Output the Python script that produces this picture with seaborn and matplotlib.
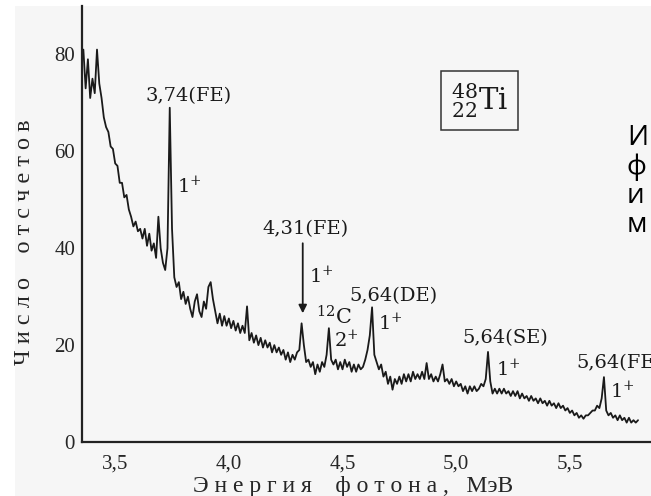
import numpy as np
import pandas as pd
import seaborn as sns
import matplotlib.pyplot as plt
from matplotlib.patches import Rectangle

# spectrum: counts per channel, channels 0.01 MeV apart starting at 3.36 MeV
e_start = 3.36
e_step = 0.01
counts = [
    81, 73, 79, 71, 75, 72, 81, 74, 71, 67,
    65, 64, 61, 60.5, 57.5, 57, 53.5, 53.5, 50.5, 51,
    48, 46.5, 44.5, 45.5, 43.5, 44, 42, 44, 40.5, 43,
    39.5, 41, 38, 46.5, 40, 37, 35.5, 40, 69, 44,
    34, 32, 33, 29.5, 31, 28.5, 30, 27.5, 25.8, 29,
    30.5, 27, 25.8, 29, 27.5, 32, 33, 29.5, 27, 24.5,
    26.5, 24, 26, 24, 25.5, 23.5, 25, 23, 24.5, 22.5,
    24, 22.5, 28, 21, 22.5, 20.5, 22, 20, 21.5, 19.5,
    21, 19.5, 20.5, 18.5, 20, 18.5, 19.5, 18, 19, 17,
    18.5, 16.5, 18, 17, 18.5, 19, 24.5, 20, 16.5, 17,
    15.5, 16.5, 14, 16, 14.5, 16.5, 15.5, 18, 23.5, 17,
    16, 17, 15, 16.5, 15, 17, 15.5, 16.5, 14.5, 16,
    14.5, 16, 15, 15.5, 17, 19, 22, 27.8, 18, 16.5,
    15, 16, 13.5, 14.5, 12, 13.5, 10.8, 13, 12, 13.5,
    12, 14, 12.5, 14, 12.5, 14.5, 13, 14, 13, 14.5,
    13, 16.3, 13, 14, 12.5, 13.5, 12.5, 14, 16, 12.5,
    13, 12, 13, 11.5, 12.5, 11.5, 12, 10.5, 11.5, 10,
    11.5, 10.5, 11.5, 10.5, 11, 12, 11.5, 13, 18.6, 12.5,
    10, 11, 10, 11, 10, 11, 10, 10.5, 9.5, 10.5,
    9.5, 10.5, 9, 10, 9, 9.5, 8.5, 9.5, 8.5, 9,
    8, 9, 8, 8.5, 7.5, 8.5, 7.5, 8, 7, 8,
    7, 7.5, 6.5, 7, 6, 6.5, 5.5, 6, 5, 5.5,
    4.8, 5.5, 5.5, 6, 6.5, 6.5, 7.5, 7, 9, 13.4,
    6.5, 5.5, 6, 5, 5.5, 4.5, 5.5, 4.5, 5, 4,
    5, 4, 4.5, 4, 4.5,
]
energy = np.round(e_start + e_step * np.arange(len(counts)), 2)

xticks = [3.5, 4.0, 4.5, 5.0, 5.5]
xtick_labels = ["3,5", "4,0", "4,5", "5,0", "5,5"]
yticks = [0, 20, 40, 60, 80]

# peak labels: (text, x, y, alignment)
peak_labels = [
    ("3,74(FE)", 3.822, 71.5, "center"),
    ("4,31(FE)", 4.338, 43.9, "center"),
    ("5,64(DE)", 4.722, 30.1, "center"),
    ("5,64(SE)", 5.216, 21.4, "center"),
    ("5,64(FE)", 5.529, 16.3, "left"),
]
spin_labels = [
    ("1$^{+}$", 3.773, 52.8),
    ("1$^{+}$", 4.351, 34.2),
    ("2$^{+}$", 4.462, 21.0),
    ("1$^{+}$", 4.656, 24.5),
    ("1$^{+}$", 5.176, 15.0),
    ("1$^{+}$", 5.675, 10.5),
]
side_letters = ["И", "ф", "и", "м"]

df = pd.DataFrame({"E": energy, "N": counts})

sns.set_style("white")
plt.rcParams["font.family"] = ["Liberation Serif", "DejaVu Serif"]
plt.rcParams["mathtext.fontset"] = "dejavuserif"

fig = plt.figure(figsize=(6.51, 4.96), dpi=100, facecolor="white")
fig.patches.append(Rectangle((15 / 651, 0), 1, 490 / 496, transform=fig.transFigure,
                             facecolor="#f6f6f6", edgecolor="none", zorder=-1))
ax = fig.add_axes([82 / 651, 54 / 496, 569 / 651, 436 / 496])
ax.set_facecolor("none")

sns.lineplot(data=df, x="E", y="N", ax=ax, color="#1a1a1a", lw=1.3, estimator=None)

ax.set_xlim(3.354, 5.857)
ax.set_ylim(0, 90)
ax.set_xticks(xticks)
ax.set_xticklabels(xtick_labels)
ax.set_yticks(yticks)
ax.tick_params(axis="x", direction="in", length=9, width=1.5, pad=9, labelsize=15, color="#222")
ax.tick_params(axis="y", direction="in", length=6, width=1.5, pad=5, labelsize=15, color="#222")
for side in ["top", "right"]:
    ax.spines[side].set_visible(False)
for side in ["left", "bottom"]:
    ax.spines[side].set_linewidth(1.6)
    ax.spines[side].set_color("#222")

ax.set_xlabel("Э н е р г и я    ф о т о н а ,   МэВ", fontsize=17)
ax.set_ylabel("Ч и с л о    о т с ч е т о в", fontsize=17.5)
ax.xaxis.set_label_coords(0.476, -0.078)
ax.yaxis.set_label_coords(-0.083, 0.458)

ann_font = dict(family="DejaVu Serif", fontsize=14, color="#1a1a1a")
for txt, x, y, ha in peak_labels:
    ax.text(x, y, txt, ha=ha, va="center", clip_on=False, **ann_font)
for txt, x, y in spin_labels:
    ax.text(x, y, txt, ha="left", va="center", **ann_font)
ax.text(4.382, 25.8, "$^{12}$C", ha="left", va="center", family="DejaVu Serif",
        fontsize=15, color="#1a1a1a")

ax.annotate("", xy=(4.325, 26.0), xytext=(4.325, 41.6),
            arrowprops=dict(arrowstyle="-|>", color="#1a1a1a", lw=1.3, mutation_scale=12))

ax.text(5.103, 70.5, r"${}^{48}_{22}\mathrm{Ti}$", ha="center", va="center", fontsize=21,
        color="#1a1a1a",
        bbox=dict(boxstyle="square,pad=0.35", facecolor="none", edgecolor="#333", lw=1.1))

for i, ch in enumerate(side_letters):
    fig.text(627 / 651, 1 - (138 + 29 * i) / 496, ch, ha="left", va="center",
             family="Open Sans", fontsize=20, color="black")

fig.savefig("out.png", dpi=100, facecolor=fig.get_facecolor())
